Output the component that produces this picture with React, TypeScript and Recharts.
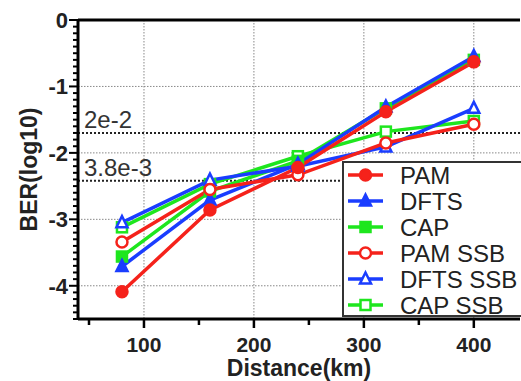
import React from "react";
import {
  CartesianGrid,
  Line,
  LineChart,
  ReferenceLine,
  XAxis,
  YAxis,
} from "recharts";

// transmission distance (km) and log10(BER) per scheme
const distances = [80, 160, 240, 320, 400];
const pam = [-4.09, -2.86, -2.22, -1.38, -0.63];
const dfts = [-3.71, -2.71, -2.17, -1.31, -0.55];
const cap = [-3.56, -2.58, -2.12, -1.33, -0.6];
const pamSsb = [-3.34, -2.55, -2.33, -1.85, -1.57];
const dftsSsb = [-3.05, -2.41, -2.2, -1.91, -1.33];
const capSsb = [-3.12, -2.47, -2.05, -1.68, -1.52];

// FEC thresholds
const thresholds = [
  { label: "2e-2", value: Math.log10(2e-2) },
  { label: "3.8e-3", value: Math.log10(3.8e-3) },
];

const xTicks = [50, 100, 150, 200, 250, 300, 350, 400];
const xGrid = [100, 200, 300, 400];
const yMajor = [0, -1, -2, -3, -4];
const yGrid = [-1, -2, -3, -4];
const yTicks = Array.from({ length: 46 }, (_, i) => -i / 10);

const RED = "#f5221b";
const BLUE = "#1a3dff";
const GREEN = "#1ee61e";
const FONT = "'Liberation Sans', Arial, sans-serif";

type Shape = "circle" | "triangle" | "square";

const series: {
  key: string;
  name: string;
  values: number[];
  color: string;
  shape: Shape;
  filled: boolean;
}[] = [
  { key: "pam", name: "PAM", values: pam, color: RED, shape: "circle", filled: true },
  { key: "dfts", name: "DFTS", values: dfts, color: BLUE, shape: "triangle", filled: true },
  { key: "cap", name: "CAP", values: cap, color: GREEN, shape: "square", filled: true },
  { key: "pamSsb", name: "PAM SSB", values: pamSsb, color: RED, shape: "circle", filled: false },
  { key: "dftsSsb", name: "DFTS SSB", values: dftsSsb, color: BLUE, shape: "triangle", filled: false },
  { key: "capSsb", name: "CAP SSB", values: capSsb, color: GREEN, shape: "square", filled: false },
];

// draw order: green under blue under red
const drawOrder = ["capSsb", "cap", "dftsSsb", "dfts", "pamSsb", "pam"];

const data = distances.map((d, i) => {
  const row: Record<string, number> = { distance: d };
  series.forEach((s) => (row[s.key] = s.values[i]));
  return row;
});

function Marker({
  cx,
  cy,
  shape,
  color,
  filled,
}: {
  cx: number;
  cy: number;
  shape: Shape;
  color: string;
  filled: boolean;
}) {
  const fill = filled ? color : "#fff";
  const sw = 2.5;
  if (shape === "circle") {
    return <circle cx={cx} cy={cy} r={5.5} fill={fill} stroke={color} strokeWidth={sw} />;
  }
  if (shape === "square") {
    return <rect x={cx - 5} y={cy - 5} width={10} height={10} fill={fill} stroke={color} strokeWidth={sw} />;
  }
  return (
    <polygon
      points={`${cx},${cy - 6.5} ${cx + 5.5},${cy + 4.5} ${cx - 5.5},${cy + 4.5}`}
      fill={fill}
      stroke={color}
      strokeWidth={sw}
      strokeLinejoin="miter"
    />
  );
}

function XTick({ x, y, payload }: any) {
  const major = payload.value % 100 === 0;
  return (
    <g>
      <line x1={x} x2={x} y1={y} y2={y + (major ? 9 : 6)} stroke="#000" strokeWidth={2.5} />
      {major && (
        <text x={x} y={y + 33} textAnchor="middle" fontFamily={FONT} fontWeight="bold" fontSize={21} fill="#222">
          {payload.value}
        </text>
      )}
    </g>
  );
}

function YTick({ x, y, payload }: any) {
  const v = Math.round(payload.value * 10) / 10;
  const major = yMajor.includes(v);
  return (
    <g>
      <line x1={x} x2={x - (major ? 9 : 5)} y1={y} y2={y} stroke="#000" strokeWidth={2} />
      {major && (
        <text x={x - 10} y={y + 8} textAnchor="end" fontFamily={FONT} fontWeight="bold" fontSize={22} fill="#222">
          {v}
        </text>
      )}
    </g>
  );
}

function ThresholdLabel(text: string) {
  return ({ viewBox }: any) => (
    <text x={viewBox.x + 6} y={viewBox.y - 5} fontFamily={FONT} fontSize={24} fill="#333">
      {text}
    </text>
  );
}

function ChartLegend() {
  const rows = 26;
  return (
    <svg
      width={190}
      height={156}
      style={{ position: "absolute", left: 342, top: 161, overflow: "visible" }}
    >
      <rect x={1} y={1} width={200} height={154} fill="#fff" stroke="#333" strokeWidth={2} />
      {series.map((s, i) => {
        const cy = 14 + i * rows;
        return (
          <g key={s.key}>
            <line x1={6} x2={41} y1={cy} y2={cy} stroke={s.color} strokeWidth={3.5} />
            <Marker cx={23.5} cy={cy} shape={s.shape} color={s.color} filled={s.filled} />
            <text x={58} y={cy + 9} fontFamily={FONT} fontSize={24} fill="#222">
              {s.name}
            </text>
          </g>
        );
      })}
    </svg>
  );
}

export default function App() {
  return (
    <div style={{ position: "absolute", left: 0, top: 0, width: 521, height: 381, background: "#fff" }}>
      <LineChart width={521} height={381} data={data} margin={{ top: 20, right: 1, bottom: 0, left: 0 }}>
        <CartesianGrid
          horizontal
          vertical
          horizontalValues={yGrid}
          verticalValues={xGrid}
          stroke="#888"
          strokeDasharray="1.5 1.5"
          strokeWidth={1}
        />
        <XAxis
          type="number"
          dataKey="distance"
          domain={[40, 442]}
          ticks={xTicks}
          allowDataOverflow
          interval={0}
          height={62}
          tickSize={0}
          tickMargin={0}
          tick={<XTick />}
          axisLine={{ stroke: "#000", strokeWidth: 3 }}
          label={({ viewBox }: any) => (
            <text
              x={viewBox.x + viewBox.width / 2}
              y={viewBox.y + 57}
              textAnchor="middle"
              fontFamily={FONT}
              fontWeight="bold"
              fontSize={23}
              fill="#222"
            >
              Distance(km)
            </text>
          )}
        />
        <YAxis
          type="number"
          domain={[-4.5, 0]}
          ticks={yTicks}
          allowDataOverflow
          interval={0}
          width={78}
          tickSize={0}
          tickMargin={0}
          tick={<YTick />}
          axisLine={{ stroke: "#000", strokeWidth: 3 }}
          label={({ viewBox }: any) => {
            const cx = 29;
            const cy = viewBox.y + viewBox.height / 2;
            return (
              <text
                x={cx}
                y={cy}
                transform={`rotate(-90 ${cx} ${cy})`}
                textAnchor="middle"
                dominantBaseline="central"
                fontFamily={FONT}
                fontWeight="bold"
                fontSize={23}
                fill="#222"
              >
                BER(log10)
              </text>
            );
          }}
        />
        <ReferenceLine y={0} stroke="#000" strokeWidth={3} />
        {thresholds.map((t) => (
          <ReferenceLine
            key={t.label}
            y={t.value}
            stroke="#222"
            strokeWidth={2}
            strokeDasharray="2 2"
            label={ThresholdLabel(t.label)}
          />
        ))}
        {drawOrder.map((k) => {
          const s = series.find((x) => x.key === k)!;
          return (
            <Line
              key={s.key}
              dataKey={s.key}
              name={s.name}
              stroke={s.color}
              strokeWidth={3.5}
              isAnimationActive={false}
              dot={(p: any) => (
                <Marker key={`${s.key}-${p.index}`} cx={p.cx} cy={p.cy} shape={s.shape} color={s.color} filled={s.filled} />
              )}
              activeDot={false}
            />
          );
        })}
      </LineChart>
      <ChartLegend />
    </div>
  );
}
